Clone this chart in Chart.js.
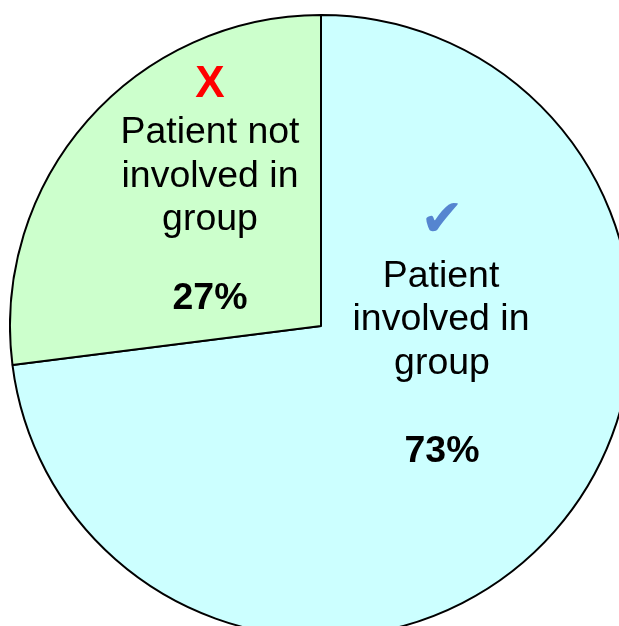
<!DOCTYPE html>
<html>
<head>
<meta charset="utf-8">
<script src="https://cdn.jsdelivr.net/npm/chart.js@4.4.0/dist/chart.umd.min.js"></script>
<style>
  html, body { margin: 0; padding: 0; background: #fff; overflow: hidden; width: 619px; height: 626px; }
  #wrap { position: absolute; left: 9px; top: 14px; width: 624px; height: 624px; }
</style>
</head>
<body>
<div id="wrap"><canvas id="pie_chart" width="624" height="624"></canvas></div>
<script>
var categories = ["Patient involved in group", "Patient not involved in group"];
var values = [73, 27];
var colors = ['#CCFFFF', '#CCFFCC'];

// text placed in page pixels (canvas origin is offset 9,14 from page)
var ox = 9, oy = 14;

function stretchedText(ctx, text, x, y) {
    ctx.save();
    ctx.translate(x - ox, y - oy);
    ctx.scale(1.04, 1);
    ctx.fillText(text, 0, 0);
    ctx.restore();
}

var labelsPlugin = {
    id: 'sliceLabels',
    afterDraw: function (chart) {
        var ctx = chart.ctx;
        var reg = '36px "Liberation Sans", Arial, sans-serif';
        var bold = 'bold 36px "Liberation Sans", Arial, sans-serif';
        ctx.save();
        ctx.textAlign = 'center';
        ctx.textBaseline = 'middle';

        // not involved slice
        ctx.fillStyle = '#FF0000';
        ctx.font = 'bold 44px "Liberation Sans", Arial, sans-serif';
        ctx.fillText('X', 210 - ox, 85 - oy);
        ctx.fillStyle = '#000';
        ctx.font = reg;
        stretchedText(ctx, 'Patient not', 210, 133);
        stretchedText(ctx, 'involved in', 210, 177);
        stretchedText(ctx, 'group', 210, 220);
        ctx.font = bold;
        stretchedText(ctx, values[1] + '%', 210, 299);

        // involved slice
        ctx.fillStyle = '#5585D0';
        ctx.font = '52px "DejaVu Sans", sans-serif';
        ctx.fillText('\u2714', 442 - ox, 222 - oy);
        ctx.fillStyle = '#000';
        ctx.font = reg;
        stretchedText(ctx, 'Patient', 441, 277);
        stretchedText(ctx, 'involved in', 441, 320);
        stretchedText(ctx, 'group', 442, 364);
        ctx.font = bold;
        stretchedText(ctx, values[0] + '%', 442, 452);
        ctx.restore();
    }
};

new Chart(document.getElementById("pie_chart").getContext("2d"), {
    type: 'pie',
    data: {
        labels: categories,
        datasets: [{
            data: values,
            backgroundColor: colors,
            borderColor: '#000000',
            borderWidth: 2
        }]
    },
    options: {
        responsive: false,
        animation: false,
        layout: { padding: 0 },
        plugins: {
            legend: { display: false },
            tooltip: { enabled: false }
        }
    },
    plugins: [labelsPlugin]
});
</script>
</body>
</html>
